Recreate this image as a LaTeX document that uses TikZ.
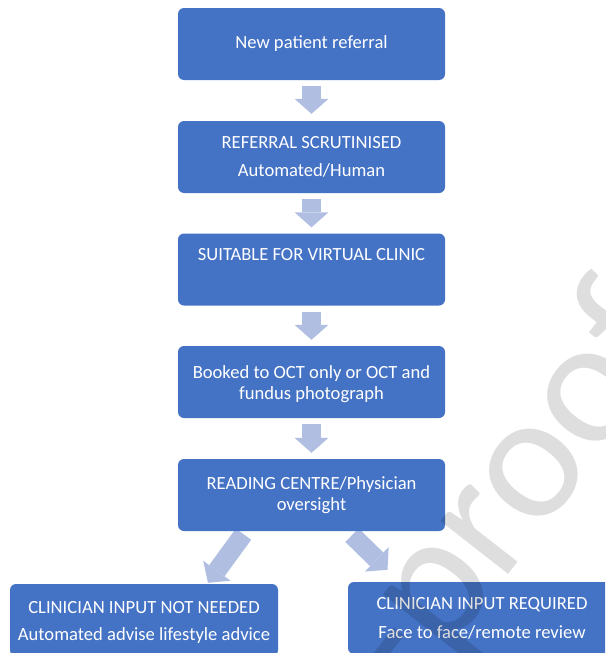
\documentclass[tikz,border=0pt]{standalone}
\usepackage{fontspec}
\setmainfont{Carlito}
\usetikzlibrary{arrows.meta}
\definecolor{boxblue}{HTML}{4472C4}
\definecolor{arrowblue}{HTML}{B0BEE2}
\pgfdeclarelayer{background}
\pgfsetlayers{background,main}
\begin{document}
\begin{tikzpicture}[x=1pt,y=-1pt,
  stage/.style={draw=none, fill=boxblue, rounded corners=6pt, text=white,
    minimum width=267pt, minimum height=72pt, inner sep=0pt, align=center,
    font=\fontsize{18.6pt}{21pt}\selectfont},
  flow/.style={draw=arrowblue, line width=19pt,
    -{Triangle[width=34pt,length=15pt,line width=0pt]}},
  stamp/.style={text=black, text opacity=0.13, inner sep=0pt,
    font=\fontsize{180pt}{180pt}\selectfont}]
\useasboundingbox (0,0) rectangle (605,653);
\clip (0,0) rectangle (605,653);

% process stages
\node[stage] (b1) at (311.5,44) {New patient referral};
\node[stage] (b2) at (311.5,157) {REFERRAL SCRUTINISED\\[7pt]Automated/Human};
\node[stage] (b3) at (311.5,269.5) {SUITABLE FOR VIRTUAL CLINIC\\[10pt]\mbox{}};
\node[stage] (b4) at (311.5,382) {\rule{0pt}{18pt}Booked to OCT only or OCT and\\fundus photograph};
\node[stage] (b5) at (311.5,495) {READING CENTRE/Physician\\oversight};
\node[stage, minimum width=268pt] (bl) at (144,620) {\rule{0pt}{17pt}CLINICIAN INPUT NOT NEEDED\\[6pt]Automated advise lifestyle advice};
\node[stage, minimum width=268pt] (br) at (482,618) {CLINICIAN INPUT REQUIRED\\[8pt]Face to face/remote review};

% block arrows behind the boxes
\begin{pgfonlayer}{background}
\fill[white] (0,0) rectangle (605,653);
\draw[flow, shorten <=6pt, shorten >=7pt] (b1) -- (b2);
\draw[flow, shorten <=6pt, shorten >=6pt] (b2) -- (b3);
\draw[flow, shorten <=6pt, shorten >=6pt] (b3) -- (b4);
\draw[flow, shorten <=6pt, shorten >=6pt] (b4) -- (b5);
\draw[flow] ([xshift=-68pt,yshift=-3pt]b5.south) -- ([xshift=64pt,yshift=1pt]bl.north);
\draw[flow] ([xshift=40.5pt,yshift=-4pt]b5.south) -- ([xshift=-94.5pt,yshift=12pt]br.north);
\end{pgfonlayer}

% diagonal stamp across the page
\node[stamp, anchor=base west, rotate=52] (wm) at (-93,1344) {Journal Pre-proof};
\end{tikzpicture}
\end{document}
